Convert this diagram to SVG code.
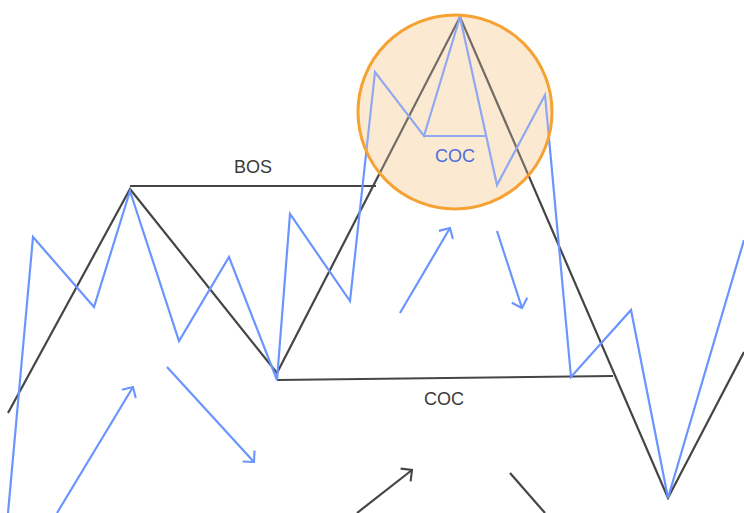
<svg xmlns="http://www.w3.org/2000/svg" width="744" height="513" viewBox="0 0 744 513">
<style>
.blue{fill:none;stroke:#6A95FF;stroke-width:2.2;stroke-linejoin:miter}
.black{fill:none;stroke:#454545;stroke-width:2.2}
.lbl{font-family:"Liberation Sans",Arial,sans-serif;font-size:18px;text-anchor:middle}
</style>
<defs>
<marker id="ab" markerUnits="userSpaceOnUse" markerWidth="20" markerHeight="20" refX="8.5" refY="8.5" orient="auto" viewBox="-2 -2 14 21">
<path d="M0,0 L8.5,8.5 L0,17" fill="none" stroke="#6A95FF" stroke-width="2.2"/>
</marker>
<marker id="ak" markerUnits="userSpaceOnUse" markerWidth="20" markerHeight="20" refX="8.5" refY="8.5" orient="auto" viewBox="-2 -2 14 21">
<path d="M0,0 L8.5,8.5 L0,17" fill="none" stroke="#454545" stroke-width="2.2"/>
</marker>
</defs>
<rect width="744" height="513" fill="#ffffff"/>
<g id="coc-circle-fill">
<ellipse cx="455" cy="112" rx="97" ry="97" fill="#FDEBD6"/>
</g>
<g id="structure">
<polyline class="black" points="8,413 130,189 277,373 460,17 668,498 744,352"/>
<line id="bos-line" class="black" x1="130" y1="186" x2="376" y2="186"/>
<line id="coc-line" class="black" x1="277" y1="380" x2="613" y2="376"/>
</g>
<g id="price">
<polyline class="blue" points="8,513 33,237 94,307 130,191 179,341 229,257 277,380 290,214 350,301 375,72 424,136 460,17 497,185 545,95 571,377 631,310 668,498 744,240"/>
<line class="blue" x1="424" y1="136" x2="486" y2="136"/>
</g>
<g id="coc-circle">
<ellipse cx="455" cy="112" rx="97" ry="97" fill="#FBE3C6" fill-opacity="0.25" stroke="#F5A233" stroke-width="3"/>
<text class="lbl" x="455" y="162" fill="#4B70D8">COC</text>
</g>
<g id="labels">
<text class="lbl" x="253" y="173" fill="#3A3A3A">BOS</text>
<text class="lbl" x="444" y="405" fill="#3A3A3A">COC</text>
</g>
<g id="connectors">
<line class="blue" x1="57" y1="513" x2="133" y2="387" marker-end="url(#ab)"/>
<line class="blue" x1="167" y1="367" x2="254" y2="462" marker-end="url(#ab)"/>
<line class="blue" x1="400" y1="313" x2="450" y2="228" marker-end="url(#ab)"/>
<line class="blue" x1="497" y1="231" x2="522" y2="308" marker-end="url(#ab)"/>
<line class="black" x1="357" y1="513" x2="412" y2="470" marker-end="url(#ak)"/>
<line class="black" x1="510" y1="473" x2="545" y2="513"/>
</g>
</svg>
